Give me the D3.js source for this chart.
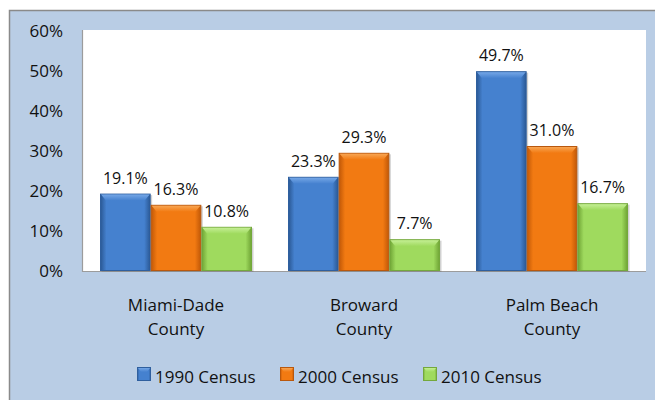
<!DOCTYPE html>
<html>
<head>
<meta charset="utf-8">
<script src="https://cdn.jsdelivr.net/npm/d3@7"></script>
<style>
  html, body { margin: 0; padding: 0; background: #ffffff; }
  svg { display: block; }
  text { font-family: "Open Sans", sans-serif; fill: #111; }
</style>
</head>
<body>
<svg id="chart" width="655" height="400"></svg>
<script>
const categories = [["Miami-Dade", "County"], ["Broward", "County"], ["Palm Beach", "County"]];
const seriesNames = ["1990 Census", "2000 Census", "2010 Census"];
const values1990 = [19.1, 23.3, 49.7];
const values2000 = [16.3, 29.3, 31.0];
const values2010 = [10.8, 7.7, 16.7];
const yTicks = [0, 10, 20, 30, 40, 50, 60];

const seriesValues = [values1990, values2000, values2010];
const palette = [
  { edge: "#2a5894", mid: "#4581cf", top: "#74a6e6", stroke: "#2f5f9e" },
  { edge: "#c15807", mid: "#f27a12", top: "#f8a552", stroke: "#b9580d" },
  { edge: "#6fa435", mid: "#9fda5e", top: "#c4ee94", stroke: "#74a83c" }
];

const svg = d3.select("#chart");
const defs = svg.append("defs");

palette.forEach((p, i) => {
  const g = defs.append("linearGradient").attr("id", "hg" + i)
    .attr("x1", "0").attr("x2", "1").attr("y1", "0").attr("y2", "0");
  g.append("stop").attr("offset", "0").attr("stop-color", p.edge);
  g.append("stop").attr("offset", "0.12").attr("stop-color", p.mid);
  g.append("stop").attr("offset", "0.88").attr("stop-color", p.mid);
  g.append("stop").attr("offset", "1").attr("stop-color", p.edge);
  const t = defs.append("linearGradient").attr("id", "tg" + i)
    .attr("x1", "0").attr("x2", "0").attr("y1", "0").attr("y2", "1");
  t.append("stop").attr("offset", "0").attr("stop-color", p.top);
  t.append("stop").attr("offset", "1").attr("stop-color", p.mid);
});

// chart area background
svg.append("rect")
  .attr("x", 9.5).attr("y", 10.5).attr("width", 700).attr("height", 450)
  .attr("fill", "#b9cde5").attr("stroke", "#8a8a8a").attr("stroke-width", 1.5);

const plot = { left: 82, right: 646, top: 30, bottom: 271 };

svg.append("rect")
  .attr("x", plot.left).attr("y", plot.top)
  .attr("width", plot.right - plot.left).attr("height", plot.bottom - plot.top)
  .attr("fill", "#ffffff");

const y = d3.scaleLinear().domain([0, 60]).range([270, 30]);

const x0 = d3.scaleBand()
  .domain(d3.range(categories.length))
  .range([plot.left, plot.right])
  .paddingInner(36 / 188)
  .paddingOuter(18 / 188);

const x1 = d3.scaleBand()
  .domain(d3.range(seriesNames.length))
  .range([0, x0.bandwidth()])
  .padding(0);

// plot borders (left & bottom)
svg.append("path")
  .attr("d", `M${plot.left + 0.5},${plot.top} V${plot.bottom + 0.5} H${plot.right}`)
  .attr("fill", "none").attr("stroke", "#9c9c9c").attr("stroke-width", 1.2);

// y axis labels
const yAxis = d3.axisLeft(y).tickValues(yTicks).tickFormat(d => d + "%").tickSize(0).tickPadding(0);
const yg = svg.append("g").attr("transform", `translate(63,0)`).call(yAxis);
yg.select(".domain").remove();
yg.selectAll("text")
  .style("font-family", "'Open Sans', sans-serif")
  .style("font-size", "17px")
  .attr("fill", "#111")
  .attr("dy", "0.36em");

// bars
const groups = svg.append("g").selectAll("g")
  .data(categories.map((c, i) => i))
  .join("g")
  .attr("transform", i => `translate(${x0(i)},0)`);

groups.each(function (ci) {
  const g = d3.select(this);
  seriesValues.forEach((vals, si) => {
    const v = vals[ci];
    const bx = x1(si), bw = x1.bandwidth();
    const by = y(v), bh = y(0) - y(v);
    g.append("rect")
      .attr("x", bx + 1.5).attr("y", by + 1.5)
      .attr("width", bw).attr("height", bh)
      .attr("fill", "rgba(0,0,0,0.18)");
    g.append("rect")
      .attr("x", bx + 0.5).attr("y", by + 0.5)
      .attr("width", bw - 1).attr("height", bh)
      .attr("fill", `url(#hg${si})`)
      .attr("stroke", palette[si].stroke).attr("stroke-width", 1);
    const bev = Math.min(7, bh / 2);
    g.append("path")
      .attr("d", `M${bx + 1},${by + 1} H${bx + bw - 1} L${bx + bw - 6},${by + bev} H${bx + 6} Z`)
      .attr("fill", `url(#tg${si})`);
    g.append("text")
      .attr("x", bx + bw / 2).attr("y", by - 10)
      .attr("text-anchor", "middle")
      .style("font-size", "16px")
      .text(v.toFixed(1) + "%");
  });
});

// category labels
const catG = svg.append("g");
categories.forEach((lines, i) => {
  const cx = x0(i) + x0.bandwidth() / 2;
  const t = catG.append("text").attr("text-anchor", "middle").style("font-size", "17px");
  t.append("tspan").attr("x", cx).attr("y", 310.5).text(lines[0]);
  t.append("tspan").attr("x", cx).attr("y", 335).text(lines[1]);
});

// legend
const legendX = d3.scalePoint().domain(d3.range(seriesNames.length)).range([137, 423]);
const lg = svg.append("g");
seriesNames.forEach((name, i) => {
  const lx = legendX(i);
  lg.append("rect")
    .attr("x", lx + 0.5).attr("y", 367.5).attr("width", 13).attr("height", 13)
    .attr("fill", `url(#hg${i})`).attr("stroke", palette[i].stroke).attr("stroke-width", 1);
  lg.append("path")
    .attr("d", `M${lx + 1},${368} H${lx + 13} L${lx + 10},${372} H${lx + 4} Z`)
    .attr("fill", `url(#tg${i})`);
  lg.append("text")
    .attr("x", lx + 18).attr("y", 383)
    .style("font-size", "17px")
    .text(name);
});
</script>
</body>
</html>
